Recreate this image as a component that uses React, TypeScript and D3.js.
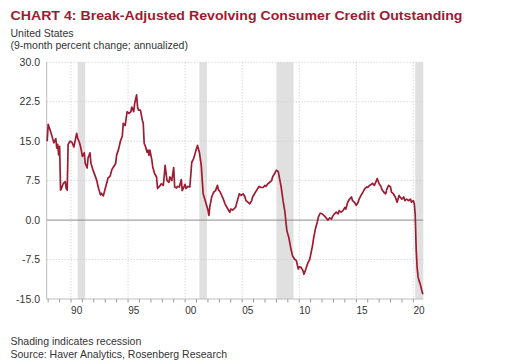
import React, { Component } from "react";
import * as d3 from "d3";

// monthly readings of the 9-month annualized % change
const months = [
  "1987-12", "1988-01", "1988-04", "1988-06", "1988-07", "1988-09", "1988-10", "1988-11", "1988-12",
  "1989-01", "1989-02", "1989-03", "1989-05", "1989-07", "1989-08", "1989-09", "1989-10", "1989-12",
  "1990-02", "1990-04", "1990-05", "1990-07", "1990-08", "1990-10", "1990-11", "1990-12",
  "1991-01", "1991-03", "1991-04", "1991-06", "1991-07", "1991-09", "1991-10", "1991-12",
  "1992-02", "1992-04", "1992-06", "1992-08", "1992-09", "1992-11",
  "1993-01", "1993-03", "1993-04", "1993-06", "1993-08", "1993-10", "1993-12",
  "1994-01", "1994-03", "1994-05", "1994-07", "1994-08", "1994-10", "1994-12",
  "1995-02", "1995-04", "1995-05", "1995-07", "1995-08", "1995-10", "1995-11", "1995-12",
  "1996-02", "1996-04", "1996-05", "1996-06", "1996-07", "1996-09", "1996-10", "1996-11", "1996-12",
  "1997-02", "1997-03", "1997-05", "1997-07", "1997-08", "1997-10", "1997-12",
  "1998-02", "1998-03", "1998-04", "1998-06", "1998-08", "1998-09", "1998-11",
  "1999-01", "1999-02", "1999-04", "1999-05", "1999-07", "1999-09", "1999-10", "1999-11",
  "2000-01", "2000-02", "2000-04", "2000-06", "2000-08", "2000-10",
  "2001-01", "2001-02", "2001-04", "2001-06", "2001-08", "2001-10",
  "2002-01", "2002-02", "2002-03", "2002-05", "2002-07", "2002-09", "2002-11", "2002-12",
  "2003-02", "2003-05", "2003-07", "2003-10", "2003-12",
  "2004-01", "2004-03", "2004-06", "2004-08", "2004-10", "2004-12",
  "2005-02", "2005-04", "2005-05", "2005-07", "2005-09", "2005-11", "2005-12",
  "2006-02", "2006-04", "2006-06", "2006-07", "2006-09", "2006-11",
  "2007-01", "2007-02", "2007-04", "2007-06", "2007-08", "2007-09", "2007-11",
  "2008-01", "2008-03", "2008-04", "2008-06", "2008-08", "2008-10", "2008-11", "2008-12",
  "2009-02", "2009-04", "2009-06", "2009-08", "2009-10", "2009-12",
  "2010-01", "2010-03", "2010-05", "2010-06", "2010-08", "2010-10", "2010-12",
  "2011-03", "2011-04", "2011-06", "2011-08", "2011-09", "2011-11",
  "2012-01", "2012-03", "2012-05", "2012-07", "2012-09", "2012-11", "2012-12",
  "2013-02", "2013-04", "2013-06", "2013-07", "2013-09", "2013-11",
  "2014-01", "2014-02", "2014-04", "2014-06", "2014-08", "2014-09", "2014-11",
  "2015-01", "2015-03", "2015-04", "2015-06", "2015-08", "2015-10", "2015-12",
  "2016-01", "2016-03", "2016-05", "2016-06", "2016-08", "2016-10", "2016-11",
  "2017-01", "2017-03", "2017-04", "2017-06", "2017-08", "2017-09", "2017-11",
  "2018-01", "2018-02", "2018-04", "2018-06", "2018-08", "2018-10", "2018-11",
  "2019-01", "2019-03", "2019-04", "2019-06", "2019-08", "2019-10", "2019-11",
  "2020-01", "2020-02", "2020-03", "2020-04", "2020-05", "2020-06", "2020-07", "2020-08", "2020-09", "2020-10", "2020-11",
];

const values = [
  15.0, 18.2, 16.6, 15.3, 14.7, 15.5, 13.7, 14.4, 12.4,
  14.0, 5.7, 6.0, 7.0, 7.3, 6.0, 5.7, 14.4, 15.0,
  14.8, 13.9, 14.7, 16.5, 15.6, 14.7, 14.0, 13.1,
  12.1, 12.8, 10.8, 9.9, 11.8, 12.8, 10.8, 9.6,
  8.6, 7.6, 6.0, 4.8, 5.1, 4.6,
  6.0, 7.3, 8.0, 8.3, 9.6, 10.2, 10.8,
  12.4, 13.4, 15.0, 16.0, 18.4, 18.0, 20.6,
  20.3, 20.6, 21.5, 20.6, 22.2, 23.8, 21.5, 20.9,
  20.9, 19.0, 18.4, 14.5, 14.2, 12.9, 13.3, 12.3, 13.3,
  11.4, 10.1, 8.8, 8.2, 6.0, 6.4, 6.9,
  6.6, 8.2, 10.4, 7.5, 7.2, 8.2, 7.5,
  10.0, 6.3, 6.1, 6.4, 6.3, 7.7, 5.6, 6.0,
  6.8, 6.0, 6.4, 6.3, 11.0, 11.7,
  13.6, 14.2, 12.9, 10.4, 5.0, 3.8,
  1.9, 0.9, 2.5, 4.4, 5.3, 5.6, 6.6, 5.8,
  5.3, 4.1, 3.1, 2.1, 1.5,
  2.1, 1.9, 2.4, 3.7, 5.0, 4.7,
  5.0, 4.4, 3.7, 3.4, 3.1, 3.7, 4.4,
  5.0, 5.6, 6.2, 6.4, 6.2, 6.2,
  6.6, 6.4, 6.9, 7.2, 7.5, 8.2, 8.8,
  9.5, 9.2, 8.2, 6.3, 3.7, 1.5, -0.4, -2.0,
  -3.3, -5.2, -6.8, -7.4, -7.7, -9.3,
  -8.9, -9.0, -9.6, -10.3, -9.3, -8.2, -7.5,
  -4.9, -3.6, -1.7, -0.4, 0.5, 1.3,
  1.2, 0.9, 0.5, 0.0, 0.4, 0.2, 0.7,
  1.2, 1.5, 1.2, 1.8, 1.5, 1.8,
  2.4, 2.1, 3.4, 4.0, 4.4, 3.7, 3.4,
  2.8, 3.4, 4.0, 4.7, 5.3, 6.0, 6.3,
  6.2, 6.6, 6.8, 7.0, 6.6, 7.4, 7.9,
  6.9, 6.4, 5.8, 5.3, 5.0, 5.8, 6.6,
  6.3, 5.3, 5.0, 4.4, 3.4, 4.7, 4.4,
  4.0, 4.4, 3.7, 4.0, 3.7, 4.0, 3.4,
  3.7, 3.1, 1.0, -5.5, -9.0, -10.8, -11.5, -12.0, -12.7, -13.5, -14.1,
];

// recession shading (last one runs to the end of the chart)
const recessionStart = ["1990-08", "2001-04", "2008-01", "2020-03"];
const recessionEnd = ["1991-04", "2001-12", "2009-07", "2021-01"];

const yTicks = [30, 22.5, 15, 7.5, 0, -7.5, -15];
const labelYears = [1990, 1995, 2000, 2005, 2010, 2015, 2020];

const FONT = "'Liberation Sans', Arial, sans-serif";
const RED = "#9e1b32";

class App extends Component {
  svgRef = React.createRef<SVGSVGElement>();

  componentDidMount() {
    const svg = d3.select(this.svgRef.current);
    svg.selectAll("*").remove();

    const left = 46.7, right = 423.3, top = 62.3, bottom = 299;
    const parse = d3.timeParse("%Y-%m");
    const data = months.map((m, i) => ({ date: parse(m), value: values[i] }));

    const x = d3.scaleTime()
      .domain([new Date(1987, 10, 15), new Date(2020, 10, 15)])
      .range([left, right]);
    const y = d3.scaleLinear().domain([-15, 30]).range([bottom, top]);

    svg.append("rect").attr("width", 512).attr("height", 363).attr("fill", "#fff");

    // titles
    svg.append("text")
      .attr("x", 10.5).attr("y", 19.5)
      .attr("font-family", FONT).attr("font-size", 13.5).attr("font-weight", "bold")
      .attr("fill", RED)
      .attr("textLength", 452).attr("lengthAdjust", "spacingAndGlyphs")
      .text("CHART 4: Break-Adjusted Revolving Consumer Credit Outstanding");
    svg.append("text")
      .attr("x", 10.5).attr("y", 37)
      .attr("font-family", FONT).attr("font-size", 10.5).attr("fill", "#333")
      .text("United States");
    svg.append("text")
      .attr("x", 10.5).attr("y", 48.5)
      .attr("font-family", FONT).attr("font-size", 10.5).attr("fill", "#333")
      .text("(9-month percent change; annualized)");

    const plot = svg.append("g");

    // recessions
    plot.selectAll(".rec")
      .data(recessionStart.map((s, i) => [parse(s), parse(recessionEnd[i])]))
      .join("rect")
      .attr("class", "rec")
      .attr("x", d => x(d[0]))
      .attr("width", d => Math.min(x(d[1]), right) - x(d[0]))
      .attr("y", top)
      .attr("height", bottom - top)
      .attr("fill", "#e0e0e0");

    // grid
    plot.selectAll(".hgrid")
      .data(yTicks.filter(t => t !== 0 && t !== -15))
      .join("line")
      .attr("class", "hgrid")
      .attr("x1", left).attr("x2", right)
      .attr("y1", d => y(d)).attr("y2", d => y(d))
      .attr("stroke", "#c8c8c8").attr("stroke-dasharray", "1,2");
    plot.selectAll(".vgrid")
      .data(labelYears)
      .join("line")
      .attr("class", "vgrid")
      .attr("x1", d => x(new Date(d, 0, 1))).attr("x2", d => x(new Date(d, 0, 1)))
      .attr("y1", top).attr("y2", bottom)
      .attr("stroke", "#c8c8c8").attr("stroke-dasharray", "1,2");

    // zero line and axes
    plot.append("line")
      .attr("x1", left).attr("x2", right).attr("y1", y(0)).attr("y2", y(0))
      .attr("stroke", "#8a8a8a").attr("stroke-width", 1);
    plot.append("line")
      .attr("x1", left).attr("x2", left).attr("y1", top).attr("y2", bottom)
      .attr("stroke", "#bdbdbd");
    plot.append("line")
      .attr("x1", left).attr("x2", right).attr("y1", bottom).attr("y2", bottom)
      .attr("stroke", "#bdbdbd");

    // yearly tick marks below the axis
    plot.selectAll(".ytick-mark")
      .data(d3.range(1988, 2021))
      .join("line")
      .attr("class", "ytick-mark")
      .attr("x1", d => x(new Date(d, 0, 1))).attr("x2", d => x(new Date(d, 0, 1)))
      .attr("y1", bottom).attr("y2", bottom + 3.5)
      .attr("stroke", "#9a9a9a");

    // tick labels
    plot.selectAll(".ylab")
      .data(yTicks)
      .join("text")
      .attr("class", "ylab")
      .attr("x", 40).attr("y", d => y(d)).attr("dy", "0.35em")
      .attr("text-anchor", "end")
      .attr("font-family", FONT).attr("font-size", 10.5).attr("fill", "#333")
      .text(d => d.toFixed(1));
    plot.selectAll(".xlab")
      .data(labelYears)
      .join("text")
      .attr("class", "xlab")
      .attr("x", d => x(new Date(d, 6, 1)))
      .attr("y", 313.5)
      .attr("text-anchor", "middle")
      .attr("font-family", FONT).attr("font-size", 10).attr("fill", "#333")
      .text(d => String(d % 100).padStart(2, "0"));

    // series
    const line = d3.line<any>().x(d => x(d.date)).y(d => y(d.value));
    plot.append("path")
      .datum(data)
      .attr("d", line)
      .attr("fill", "none")
      .attr("stroke", RED)
      .attr("stroke-width", 1.7)
      .attr("stroke-linejoin", "round");

    // footer
    svg.append("text")
      .attr("x", 10.5).attr("y", 345)
      .attr("font-family", FONT).attr("font-size", 10.5).attr("fill", "#333")
      .text("Shading indicates recession");
    svg.append("text")
      .attr("x", 10.5).attr("y", 357.5)
      .attr("font-family", FONT).attr("font-size", 10.5).attr("fill", "#333")
      .text("Source: Haver Analytics, Rosenberg Research");
  }

  render() {
    return (
      <svg
        ref={this.svgRef}
        width={512}
        height={363}
        style={{ position: "absolute", left: 0, top: 0, display: "block" }}
      />
    );
  }
}

export default App;
